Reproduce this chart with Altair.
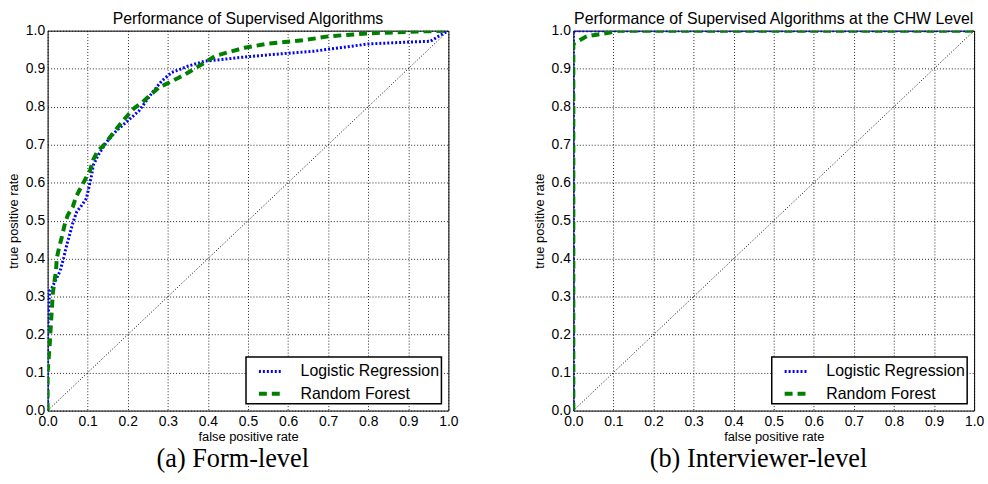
import altair as alt
import pandas as pd

tick_values = [0.0, 0.1, 0.2, 0.3, 0.4, 0.5, 0.6, 0.7, 0.8, 0.9, 1.0]
series_names = ["Logistic Regression", "Random Forest"]
series_colors = ["#0000ff", "#008000"]
series_dash = [[2, 2], [8, 5]]
series_width = [3, 4]

titles = ["Performance of Supervised Algorithms",
          "Performance of Supervised Algorithms at the CHW Level"]
captions = ["(a)  Form-level", "(b)  Interviewer-level"]

# panel (a): form level
a_lr_fpr = [0.0, 0.0, 0.0, 0.003, 0.005, 0.011, 0.019, 0.031, 0.040, 0.048, 0.056,
            0.064, 0.073, 0.085, 0.097, 0.106, 0.110, 0.114, 0.126, 0.147, 0.172,
            0.196, 0.228, 0.261, 0.285, 0.310, 0.351, 0.393, 0.434, 0.475, 0.558,
            0.665, 0.8, 0.9, 0.955, 0.975, 1.0]
a_lr_tpr = [0.0, 0.12, 0.2, 0.28, 0.315, 0.324, 0.341, 0.367, 0.402, 0.437, 0.467,
            0.498, 0.524, 0.540, 0.559, 0.602, 0.620, 0.646, 0.672, 0.707, 0.737,
            0.759, 0.789, 0.837, 0.868, 0.890, 0.907, 0.920, 0.924, 0.929, 0.937,
            0.946, 0.965, 0.970, 0.972, 0.985, 1.0]

a_rf_fpr = [0.0, 0.0, 0.005, 0.007, 0.009, 0.011, 0.013, 0.017, 0.021, 0.023, 0.029,
            0.036, 0.042, 0.050, 0.063, 0.071, 0.083, 0.095, 0.106, 0.114, 0.125,
            0.143, 0.159, 0.188, 0.215, 0.240, 0.277, 0.302, 0.327, 0.351, 0.384,
            0.418, 0.450, 0.492, 0.550, 0.640, 0.7, 0.8, 0.9, 1.0]
a_rf_tpr = [0.0, 0.1, 0.17, 0.206, 0.241, 0.274, 0.309, 0.339, 0.370, 0.402, 0.431,
            0.459, 0.487, 0.514, 0.537, 0.563, 0.587, 0.611, 0.633, 0.661, 0.683,
            0.702, 0.724, 0.763, 0.795, 0.815, 0.850, 0.863, 0.876, 0.890, 0.911,
            0.933, 0.943, 0.955, 0.966, 0.975, 0.985, 0.993, 0.997, 1.0]

# panel (b): interviewer level
b_lr_fpr = [0.0, 0.0, 1.0]
b_lr_tpr = [0.0, 1.0, 1.0]
b_rf_fpr = [0.0, 0.0, 0.004, 0.033, 0.062, 0.091, 0.11, 1.0]
b_rf_tpr = [0.0, 0.965, 0.968, 0.985, 0.990, 0.995, 1.0, 1.0]

diag_fpr = [0.0, 1.0]
diag_tpr = [0.0, 1.0]


def make_df(lr_fpr, lr_tpr, rf_fpr, rf_tpr):
    rows = []
    for name, xs, ys in ((series_names[0], lr_fpr, lr_tpr),
                         (series_names[1], rf_fpr, rf_tpr)):
        for i, (x, y) in enumerate(zip(xs, ys)):
            rows.append({"series": name, "fpr": x, "tpr": y, "order": i})
    return pd.DataFrame(rows)


diag_df = pd.DataFrame({"fpr": diag_fpr, "tpr": diag_tpr})

x_enc = alt.X("fpr:Q", scale=alt.Scale(domain=[0, 1], nice=False),
              axis=alt.Axis(values=tick_values, format=".1f",
                            title="false positive rate"))
y_enc = alt.Y("tpr:Q", scale=alt.Scale(domain=[0, 1], nice=False),
              axis=alt.Axis(values=tick_values, format=".1f",
                            title="true positive rate"))

IND = dict(color="independent", strokeDash="independent", strokeWidth="independent")


def panel(df, title, caption):
    diag = alt.Chart(diag_df).mark_line(
        color="black", strokeWidth=1, strokeDash=[1, 2]
    ).encode(x=x_enc, y=y_enc)
    curves = alt.Chart(df).mark_line(clip=True).encode(
        x=x_enc,
        y=y_enc,
        order="order:Q",
        color=alt.Color("series:N",
                        scale=alt.Scale(domain=series_names, range=series_colors),
                        legend=alt.Legend(title=None)),
        strokeDash=alt.StrokeDash("series:N",
                                  scale=alt.Scale(domain=series_names, range=series_dash),
                                  legend=alt.Legend(title=None)),
        strokeWidth=alt.StrokeWidth("series:N",
                                    scale=alt.Scale(domain=series_names, range=series_width),
                                    legend=alt.Legend(title=None)),
    )
    layered = alt.layer(diag, curves).properties(
        width=404, height=383,
        title=alt.TitleParams(title, anchor="middle", frame="group", offset=-3),
    )
    return alt.vconcat(
        layered,
        title=alt.TitleParams(caption, orient="bottom", anchor="middle",
                              font="Liberation Serif", fontSize=26.5,
                              fontWeight="normal", color="black", offset=2),
    ).resolve_scale(**IND).resolve_legend(**IND)


chart_a = panel(make_df(a_lr_fpr, a_lr_tpr, a_rf_fpr, a_rf_tpr), titles[0], captions[0])
chart_b = panel(make_df(b_lr_fpr, b_lr_tpr, b_rf_fpr, b_rf_tpr), titles[1], captions[1])

chart = alt.hconcat(chart_a, chart_b, spacing=74).resolve_scale(
    **IND
).resolve_legend(
    **IND
).properties(
    padding={"left": 7, "top": 8, "right": 3, "bottom": 0}
).configure_view(
    stroke="black", strokeWidth=1
).configure_axis(
    grid=True, gridColor="black", gridDash=[1, 2], gridOpacity=0.85, gridWidth=1,
    domain=False, ticks=False, labelFlush=False, labelOverlap=False,
    labelFont="Liberation Sans", labelFontSize=14, labelColor="black",
    titleFont="Liberation Sans", titleFontSize=13, titleFontWeight="normal",
    titleColor="black",
).configure_axisX(
    labelPadding=4, titlePadding=2
).configure_axisY(
    labelPadding=3, titlePadding=5
).configure_legend(
    orient="bottom-right", offset=7, padding=2, strokeColor="black",
    strokeWidth=1.5, fillColor="white", cornerRadius=0,
    labelFont="Liberation Sans", labelFontSize=16, labelColor="black",
    symbolType="stroke", symbolSize=484, symbolOffset=9,
    labelOffset=18, rowPadding=1, labelLimit=400,
).configure_title(
    font="Liberation Sans", fontSize=16, fontWeight="normal", color="black"
)

chart.save("out.html", embed_options={"renderer": "svg", "actions": False})
